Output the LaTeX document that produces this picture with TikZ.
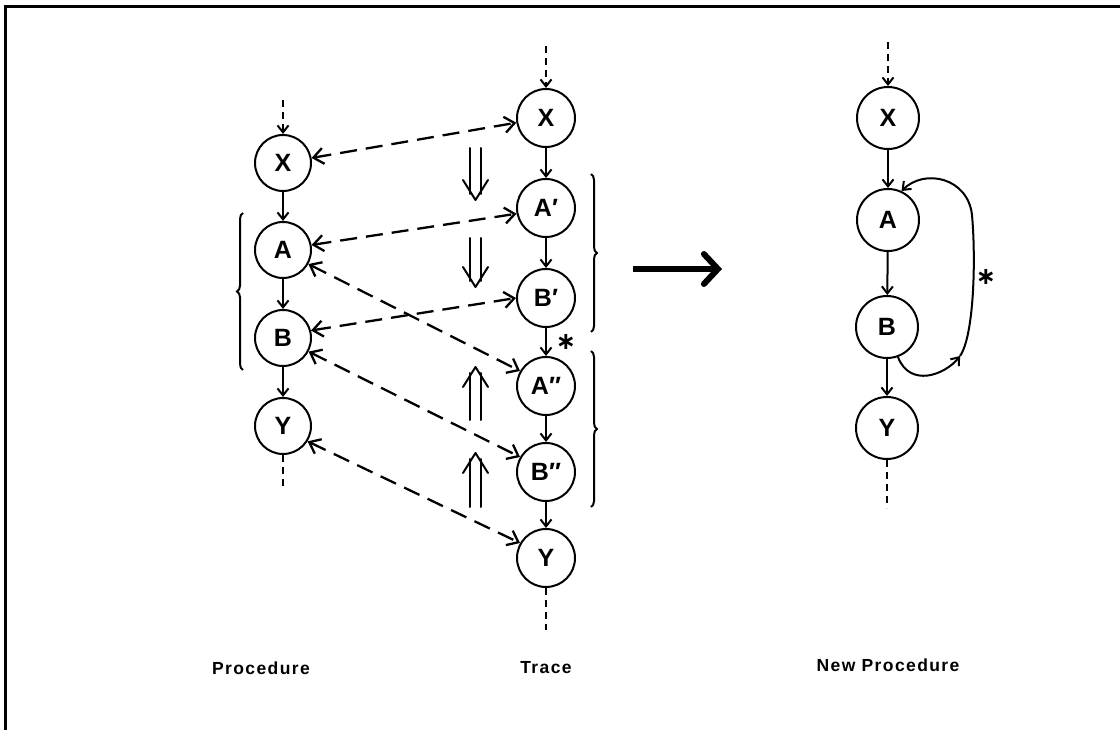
\documentclass[tikz,border=0pt]{standalone}
\usepackage{fontspec}
\setmainfont{Liberation Sans}
\newfontfamily\lblfont[LetterSpace=8]{Liberation Sans}
\newfontfamily\djv{DejaVu Sans}
\usetikzlibrary{arrows.meta,decorations.pathreplacing}
\begin{document}
\begin{tikzpicture}[x=1pt,y=-1pt,
  st/.style={circle,draw,line width=2pt,minimum size=56pt,inner sep=0pt,
    font=\fontsize{25}{25}\selectfont\bfseries},
  tst/.style={st,minimum size=58pt},
  nst/.style={st,minimum size=62pt},
  edge/.style={line width=2pt,-{Straight Barb[length=7pt,width=11pt]}},
  entry/.style={line width=2pt,dash pattern=on 7pt off 5pt,-{Straight Barb[length=7pt,width=11pt]}},
  exitl/.style={line width=2pt,dash pattern=on 7pt off 5pt},
  dconn/.style={line width=2.3pt,dash pattern=on 17pt off 9pt,
    {Straight Barb[length=10pt,width=16pt]}-{Straight Barb[length=10pt,width=16pt]}},
  brc/.style={line width=2pt,decorate,decoration={brace,amplitude=6pt}},
  dbl/.style={line width=2pt,line cap=round,line join=round},
  lbl/.style={font=\fontsize{17.5}{17.5}\selectfont\lblfont\bfseries},
  star/.style={inner sep=0pt,font=\fontsize{24}{24}\selectfont\djv\bfseries}
]
\useasboundingbox (0,0) rectangle (1120,730);
% frame (only top and left edges visible)
\draw[line width=3pt] (5,730) -- (5,7) -- (1120,7);

% ---------- Procedure ----------
\node[st] (pX) at (283,163) {X};
\node[st] (pA) at (283,250) {A};
\node[st] (pB) at (283,338) {B};
\node[st] (pY) at (283,426) {Y};
\coordinate (pTop) at (283,100);
\coordinate (pBot) at (283,490);
\draw[entry] (pTop) -- (pX);
\draw[edge] (pX) -- (pA);
\draw[edge] (pA) -- (pB);
\draw[edge] (pB) -- (pY);
\draw[exitl] (pY) -- (pBot);
\draw[brc] (243,370) -- (243,213);

% ---------- Trace ----------
\node[tst] (tX) at (546,118) {X};
\node[tst] (tA) at (546,208) {A′};
\node[tst] (tB) at (546,298) {B′};
\node[tst] (tAA) at (546,386) {A″};
\node[tst] (tBB) at (546,472) {B″};
\node[tst] (tY) at (546,558) {Y};
\coordinate (tTop) at (546,46);
\coordinate (tBot) at (546,630);
\draw[entry] (tTop) -- (tX);
\draw[edge] (tX) -- (tA);
\draw[edge] (tA) -- (tB);
\draw[edge] (tB) -- (tAA);
\draw[edge] (tAA) -- (tBB);
\draw[edge] (tBB) -- (tY);
\draw[exitl] (tY) -- (tBot);
\node[star] (s1) at (566,342) {∗};
\draw[brc] (591,174) -- (591,332);
\draw[brc] (591,351) -- (591,507);

% ---------- correspondences ----------
\draw[dconn] (pX.10) -- (tX.189);
\draw[dconn] (pA.10) -- (tA.191);
\draw[dconn] (pA.-29) -- (tAA.150);
\draw[dconn] (pB.15) -- (tB.180);
\draw[dconn] (pB.-28) -- (tBB.150);
\draw[dconn] (pY.-32) -- (tY.150);

% ---------- double arrows ----------
\draw[dbl] (470,148) -- (470,194) (481,148) -- (481,194);
\draw[dbl] (463,180) -- (475.5,200) -- (488,180);
\draw[dbl] (470,238) -- (470,281) (481,238) -- (481,281);
\draw[dbl] (463,267) -- (475.5,287) -- (488,267);
\draw[dbl] (470,420) -- (470,373) (481,420) -- (481,373);
\draw[dbl] (463,387) -- (475.5,367) -- (488,387);
\draw[dbl] (470,507) -- (470,459) (481,507) -- (481,459);
\draw[dbl] (463,473) -- (475.5,453) -- (488,473);

% ---------- big arrow ----------
\coordinate (bigS) at (633,269);
\coordinate (bigE) at (722,269);
\draw[line width=6pt,-{Straight Barb[length=14pt,width=30pt,line cap=round]}] (bigS) -- (bigE);

% ---------- New Procedure ----------
\node[nst] (nX) at (888,118) {X};
\node[nst] (nA) at (888,220) {A};
\node[nst] (nB) at (887,327) {B};
\node[nst] (nY) at (887,428) {Y};
\coordinate (nTop) at (888,42);
\coordinate (nBot) at (887,508);
\draw[entry] (nTop) -- (nX);
\draw[edge] (nX) -- (nA);
\draw[edge] (nA) -- (nB);
\draw[edge] (nB) -- (nY);
\draw[exitl] (nY) -- (nBot);
\coordinate (loopM) at (960,356);
\draw[edge] (nB.-70) .. controls (910,388) and (945,375) .. (loopM);
\draw[edge] (loopM) .. controls (974,336) and (976,260) .. (972,215)
   .. controls (968,178) and (925,168) .. (nA.65);
\node[star] (s2) at (986,277) {∗};

% ---------- labels ----------
\node[lbl] (l1) at (261,668) {Procedure};
\node[lbl] (l2) at (546,668) {Trace};
\node[lbl] (l3) at (888,665) {New Procedure};
\end{tikzpicture}
\end{document}
